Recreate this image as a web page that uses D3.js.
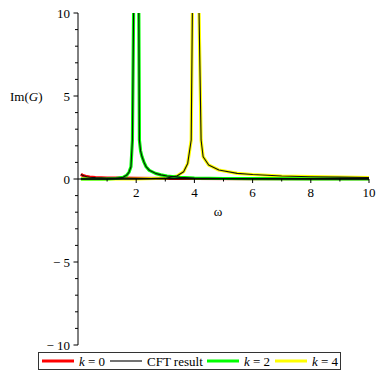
<!DOCTYPE html>
<html lang="en">
  <head>
    <meta charset="UTF-8" />
    <script src="https://d3js.org/d3.v7.min.js"></script>
    <title>Im(G)</title>
    <style>
      body { margin: 0; background: #fff; }
    </style>
  </head>
  <body>
    <svg id="chart" width="382" height="382"></svg>
    <script>
      // values (peaks go far above the top of the plot)
      const omegaK0 = [0.1, 0.15, 0.2, 0.3, 0.4, 0.6, 0.8, 1, 1.5, 2, 3, 4, 6, 8, 10];
      const imK0 = [0.28, 0.23, 0.19, 0.14, 0.11, 0.08, 0.07, 0.06, 0.05, 0.04, 0.03, 0.03, 0.02, 0.02, 0.02];

      const omegaK2 = [0.1, 0.5, 1, 1.3, 1.55, 1.68, 1.75, 1.82, 1.87, 1.91, 2.0, 2.09, 2.11, 2.15, 2.2, 2.27, 2.34, 2.45, 2.66, 2.85, 3.06, 3.5, 4, 5, 6, 8, 10];
      const imK2 = [0, 0, 0.01, 0.03, 0.1, 0.24, 0.4, 0.74, 2.35, 10, 40, 10, 2.35, 1.7, 1.34, 1.0, 0.74, 0.52, 0.34, 0.25, 0.18, 0.1, 0.06, 0.03, 0.02, 0.01, 0.01];

      const omegaK4 = [0.1, 1, 2, 3, 3.4, 3.63, 3.77, 3.89, 3.93, 4.04, 4.16, 4.23, 4.3, 4.49, 4.84, 5.47, 6, 7, 8, 9, 10];
      const imK4 = [0, 0, 0, 0.05, 0.18, 0.44, 0.94, 2.35, 10, 40, 10, 2.35, 1.34, 0.84, 0.54, 0.34, 0.27, 0.18, 0.14, 0.11, 0.09];

      const xTicks = [2, 4, 6, 8, 10];
      const yTicks = [-10, -5, 0, 5, 10];

      const legendItems = [
        { k: "0", color: "#ff0000", width: 3 },
        { label: "CFT result", color: "#444", width: 1.5 },
        { k: "2", color: "#00ff00", width: 3 },
        { k: "4", color: "#ffff00", width: 3 },
      ];

      const svg = d3.select("#chart").attr("font-family", "Liberation Serif");

      const x = d3.scaleLinear().domain([0, 10]).range([78, 369]);
      const y = d3.scaleLinear().domain([-10, 10]).range([345, 13]);

      // clip so the peaks stop at the top of the plot
      svg.append("clipPath")
        .attr("id", "plotClip")
        .append("rect")
        .attr("x", x(0))
        .attr("y", y(10))
        .attr("width", x(10) - x(0) + 2)
        .attr("height", y(-10) - y(10));

      const line = d3.line()
        .x((d) => x(d[0]))
        .y((d) => y(d[1]));

      const series = [
        { om: omegaK0, im: imK0, color: "#ff0000" },
        { om: omegaK4, im: imK4, color: "#ffff00" },
        { om: omegaK2, im: imK2, color: "#00ff00" },
      ];

      const curves = svg.append("g").attr("clip-path", "url(#plotClip)");

      // thick coloured curves first
      series.forEach((s) => {
        curves.append("path")
          .datum(d3.zip(s.om, s.im))
          .attr("fill", "none")
          .attr("stroke", s.color)
          .attr("stroke-width", 3.2)
          .attr("stroke-linejoin", "round")
          .attr("d", line);
      });

      // thin black CFT line on top of every curve
      series.forEach((s) => {
        curves.append("path")
          .datum(d3.zip(s.om, s.im))
          .attr("fill", "none")
          .attr("stroke", "#111")
          .attr("stroke-width", 1.1)
          .attr("stroke-linejoin", "round")
          .attr("d", line);
      });

      // axes (maple style: minor ticks every unit)
      const xAxis = svg.append("g").attr("transform", `translate(0,${y(0)})`);
      xAxis.append("line")
        .attr("x1", x(0)).attr("x2", x(10))
        .attr("stroke", "#000");
      xAxis.selectAll("line.tick")
        .data(d3.range(1, 11))
        .enter()
        .append("line")
        .attr("class", "tick")
        .attr("x1", (d) => x(d)).attr("x2", (d) => x(d))
        .attr("y1", 0)
        .attr("y2", (d) => (d % 2 === 0 ? 4 : 2.5))
        .attr("stroke", "#000");
      xAxis.selectAll("text")
        .data(xTicks)
        .enter()
        .append("text")
        .attr("x", (d) => x(d))
        .attr("y", 18)
        .attr("text-anchor", "middle")
        .attr("font-size", 13)
        .text((d) => d);

      const yAxis = svg.append("g").attr("transform", `translate(${x(0)},0)`);
      yAxis.append("line")
        .attr("y1", y(10)).attr("y2", y(-10))
        .attr("stroke", "#000");
      yAxis.selectAll("line.tick")
        .data(d3.range(-10, 11))
        .enter()
        .append("line")
        .attr("class", "tick")
        .attr("x1", 0)
        .attr("x2", (d) => (d % 5 === 0 ? -4.5 : -3))
        .attr("y1", (d) => y(d)).attr("y2", (d) => y(d))
        .attr("stroke", "#000");
      yAxis.selectAll("text")
        .data(yTicks)
        .enter()
        .append("text")
        .attr("x", -8)
        .attr("y", (d) => y(d) + 4.5)
        .attr("text-anchor", "end")
        .attr("font-size", 13)
        .text((d) => (d < 0 ? "\u2212 " + Math.abs(d) : d));

      // axis labels
      const yLabel = svg.append("text")
        .attr("x", 10)
        .attr("y", 101)
        .attr("font-size", 13);
      yLabel.append("tspan").text("Im(");
      yLabel.append("tspan").attr("font-style", "italic").text("G");
      yLabel.append("tspan").text(")");

      svg.append("text")
        .attr("x", 218)
        .attr("y", 216)
        .attr("text-anchor", "middle")
        .attr("font-size", 13)
        .text("\u03c9");

      // legend
      const legend = svg.append("g");
      legend.append("rect")
        .attr("x", 38.5)
        .attr("y", 352.5)
        .attr("width", 302)
        .attr("height", 17)
        .attr("fill", "none")
        .attr("stroke", "#333");

      const legendX = [42, 110, 207, 275];
      legendItems.forEach((item, i) => {
        const g = legend.append("g").attr("transform", `translate(${legendX[i]},361)`);
        g.append("line")
          .attr("x1", 0).attr("x2", 32)
          .attr("stroke", item.color)
          .attr("stroke-width", item.width);
        const t = g.append("text")
          .attr("x", 37)
          .attr("y", 4.5)
          .attr("font-size", 13);
        if (item.label) {
          t.text(item.label);
        } else {
          t.append("tspan").attr("font-style", "italic").text("k");
          t.append("tspan").text(" = " + item.k);
        }
      });
    </script>
  </body>
</html>
